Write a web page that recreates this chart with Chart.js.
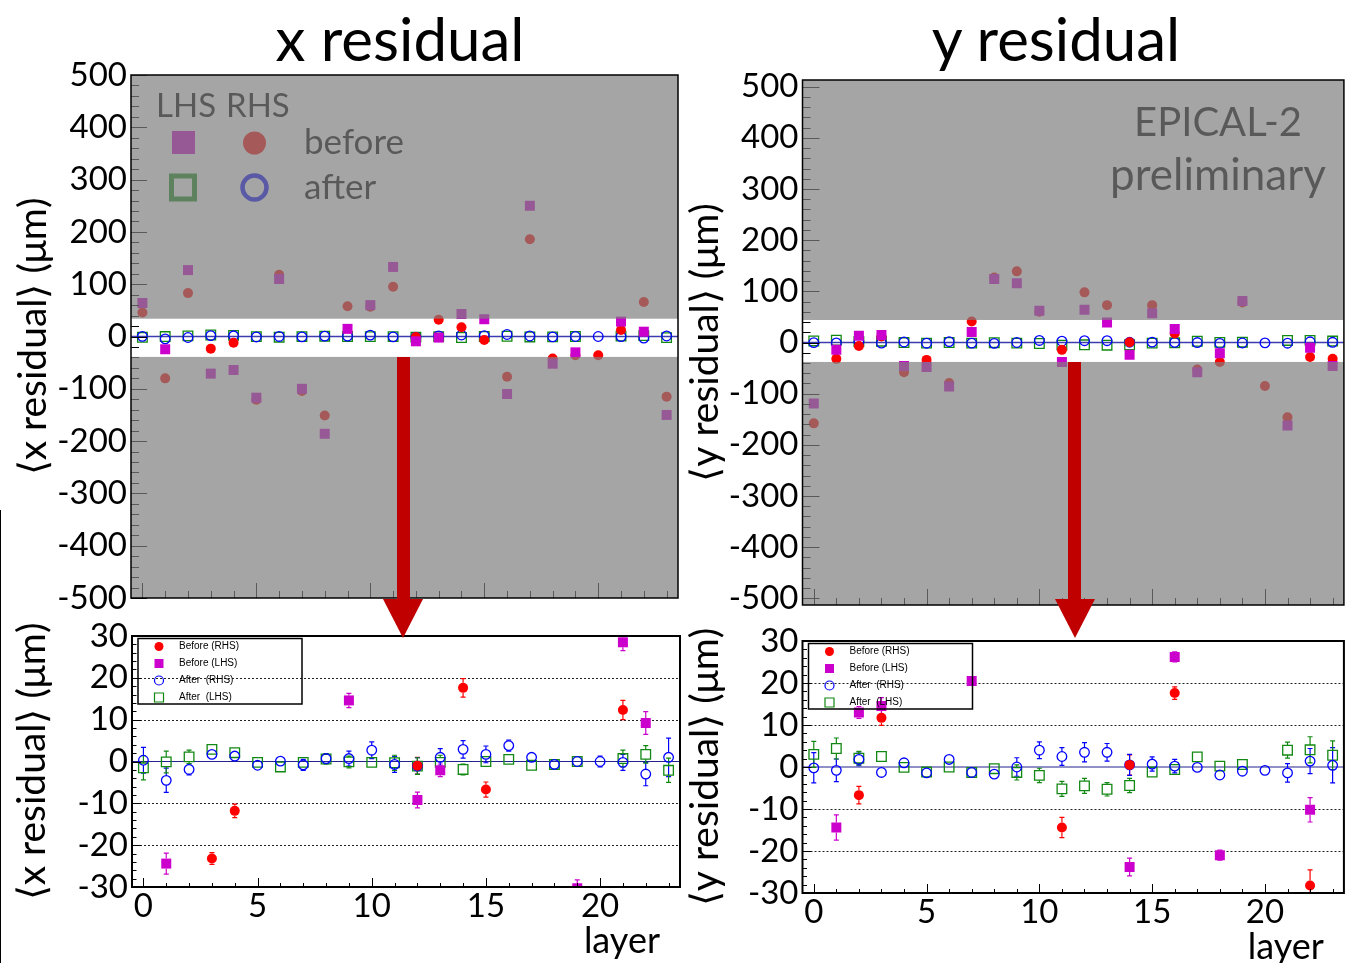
<!DOCTYPE html>
<html>
<head>
<meta charset="utf-8">
<title>Layer residuals before and after alignment</title>
<script src="https://cdn.jsdelivr.net/npm/chart.js@4.4.0/dist/chart.umd.min.js"></script>
<style>
  html, body { margin: 0; padding: 0; background: #fff; }
  body { position: relative; width: 1345px; height: 963px; overflow: hidden; font-family: Lato, sans-serif; }
  canvas { position: absolute; }
  .heading { position: absolute; top: 2px; font-size: 60px; line-height: 72px; color: #000; transform: translateX(-50%); white-space: nowrap; }
  .shaft { position: absolute; width: 13px; background: #c00000; z-index: 5; }
  .head { position: absolute; width: 0; height: 0; border-left: 20px solid transparent; border-right: 20px solid transparent; border-top: 39px solid #c00000; z-index: 5; }
  .edge { position: absolute; left: 0; top: 510px; width: 1px; height: 453px; background: #000; }
</style>
</head>
<body>
<div class="heading" style="left:400px">x residual</div>
<div class="heading" style="left:1056px">y residual</div>

<canvas id="xWide" width="690" height="590" style="left:0;top:40px"></canvas>
<canvas id="xZoom" width="690" height="353" style="left:0;top:610px"></canvas>
<canvas id="yWide" width="672" height="590" style="left:680px;top:40px"></canvas>
<canvas id="yZoom" width="672" height="348" style="left:680px;top:615px"></canvas>

<div class="edge"></div>
<div class="shaft" style="left:397px;top:357px;height:243px"></div>
<div class="head" style="left:383px;top:599px"></div>
<div class="shaft" style="left:1068px;top:362px;height:238px"></div>
<div class="head" style="left:1055px;top:599px"></div>

<script>
// layer number on the horizontal axis
const layers = [0, 1, 2, 3, 4, 5, 6, 7, 8, 9, 10, 11, 12, 13, 14, 15, 16, 17, 18, 19, 20, 21, 22, 23];
const layerTicks = [0, 5, 10, 15, 20];
const wideTicks = [-500, -400, -300, -200, -100, 0, 100, 200, 300, 400, 500];
const zoomTicks = [-30, -20, -10, 0, 10, 20, 30];

// mean x residual per layer, um
const xBeforeRHS = [46, -80, 83, -23.2, -11.8, -121, 118, -104, -151, 58, 57, 95, -1.0, 32, 17.6, -6.7, -77, 186, -42, -36, -36, 12.3, 66, -115];
const xBeforeLHS = [64, -24.4, 127, -71, -64, -117, 110, -100, -186, 14.6, 60, 133, -9.2, -2.1, 43, 33, -110, 250, -52, -30.3, null, 28.5, 9.2, -150];
const xAfterRHS = [0.3, -4.5, -1.9, 1.7, 1.3, -0.9, 0.1, -0.8, 0.7, 0.7, 2.7, -0.7, -1.1, 1.0, 2.9, 1.7, 3.8, 1.0, -0.7, 0, 0, -0.2, -3.0, 1.0];
const xAfterLHS = [-1.5, -0.1, 1.1, 2.9, 2.1, -0.2, -1.3, -0.2, 0.6, -0.1, -0.2, -0.3, -1.1, -0.2, -1.9, 0, 0.5, -0.9, -0.7, 0, null, 0.7, 1.7, -2.1];

// errors on the x means, um
const xErrBeforeRHS = [2, 2, 2, 1.4, 1.6, 2, 2, 2, 2, 2, 2, 2, 2.0, 2, 2.2, 1.8, 2, 2, 2, 2, 2, 2.3, 2, 2];
const xErrBeforeLHS = [2, 2.5, 2, 2, 2, 2, 2, 2, 2, 1.7, 2, 2, 1.9, 1.5, 2, 2, 2, 2, 2, 2, null, 2.0, 2.7, 2];
const xErrAfterRHS = [3.1, 2.9, 1.3, 1.0, 0.6, 0.5, 1.1, 1.3, 1.2, 1.8, 2.0, 1.9, 2.0, 2.1, 2.1, 2.0, 1.3, 0.6, 0.4, 0.4, 1.3, 1.9, 2.8, 4.6];
const xErrAfterLHS = [2.9, 2.6, 1.6, 1.0, 0.8, 0.5, 0.6, 0.8, 1.2, 1.4, 1.0, 1.8, 2.0, 1.7, 1.3, 1.2, 0.6, 0.6, 0.4, 0.4, null, 2.0, 2.1, 2.9];

// mean y residual per layer, um
const yBeforeRHS = [-158, -32, -6.7, 11.7, -58, -34, -79, 41, 127, 139, 60, -14.4, 98, 73, 0.5, 73, 17.6, -53, -38, 78, -85, -146, -28.2, -32];
const yBeforeLHS = [-119, -14.4, 13.0, 14.5, -46, -48, -86, 20.5, 124, 116, 62, -38, 64, 39, -23.8, 57, 26.2, -58, -21.0, 81, null, -162, -10.2, -46];
const yAfterRHS = [-0.2, -0.8, 1.8, -1.3, 1.0, -1.4, 1.8, -1.3, -1.7, 0, 4.0, 2.5, 3.5, 3.5, 0.5, 0.7, 0.2, -0.1, -1.9, -1.0, -0.8, -1.4, 1.4, 0.4];
const yAfterLHS = [3.0, 4.4, 2.1, 2.5, -0.1, -1.2, 0, -1.3, -0.4, -1.3, -2.0, -5.2, -4.5, -5.3, -4.4, -1.2, -0.6, 2.4, 0.2, 0.6, null, 4.0, 4.1, 2.8];

// errors on the y means, um
const yErrBeforeRHS = [2, 2, 2.1, 1.8, 2, 2, 2, 2, 2, 2, 2, 2.4, 2, 2, 2.4, 2, 1.5, 2, 2, 2, 2, 2, 3.7, 2];
const yErrBeforeLHS = [2, 3.0, 1.4, 2.0, 2, 2, 2, 1.0, 2, 2, 2, 2, 2, 2, 2.1, 2, 1.2, 2, 1.2, 2, null, 2, 2.9, 2];
const yErrAfterRHS = [3.6, 2.7, 1.5, 1.0, 1.0, 0.5, 1.0, 1.0, 1.0, 2.2, 2.0, 2.1, 2.3, 2.1, 2.5, 1.7, 1.6, 0.5, 0.5, 0.5, 0.5, 2.2, 3.0, 4.2];
const yErrAfterLHS = [3.1, 2.5, 1.6, 0.5, 0.5, 0.5, 0.5, 0.5, 1.0, 1.8, 1.7, 1.8, 1.8, 1.6, 1.7, 0.5, 0.8, 0.5, 0.5, 0.5, null, 1.9, 3.1, 3.4];

// marker styles (order: lower is drawn on top)
const styles = {
  beforeRHS: { label: 'Before (RHS)', shape: 'circle', color: '#ff0000', open: false, order: 1 },
  beforeLHS: { label: 'Before (LHS)', shape: 'rect', color: '#cc00cc', open: false, order: 0 },
  afterRHS: { label: 'After  (RHS)', shape: 'circle', color: '#0000ff', open: true, order: 2 },
  afterLHS: { label: 'After  (LHS)', shape: 'rect', color: '#118811', open: true, order: 3 }
};
const legendOrder = ['beforeRHS', 'beforeLHS', 'afterRHS', 'afterLHS'];

Chart.defaults.font.family = 'Lato';

function points(values, errors) {
  const out = [];
  layers.forEach((layer, i) => {
    if (values[i] !== null) out.push({ x: layer, y: values[i], err: errors[i] });
  });
  return out;
}

function makeDataset(style, values, errors, size) {
  const radius = style.shape === 'rect' ? size / Math.SQRT2 : size / 2;
  return {
    label: style.label,
    data: points(values, errors),
    order: style.order,
    pointStyle: style.shape,
    pointRadius: radius,
    pointHoverRadius: radius,
    pointBackgroundColor: style.open ? 'rgba(0,0,0,0)' : style.color,
    pointBorderColor: style.color,
    pointBorderWidth: style.open ? 1.3 : 0,
    showLine: false,
    clip: 0,
    markerHalf: size / 2
  };
}

function drawMarker(ctx, style, cx, cy, size, lineWidth) {
  ctx.save();
  ctx.beginPath();
  if (style.shape === 'circle') ctx.arc(cx, cy, size / 2, 0, Math.PI * 2);
  else ctx.rect(cx - size / 2, cy - size / 2, size, size);
  if (style.open) {
    ctx.strokeStyle = style.color;
    ctx.lineWidth = lineWidth;
    ctx.stroke();
  } else {
    ctx.fillStyle = style.color;
    ctx.fill();
  }
  ctx.restore();
}

function hline(ctx, x1, x2, y) {
  ctx.moveTo(x1, y);
  ctx.lineTo(x2, y);
}

// ROOT-like frame: inner ticks, reference lines, error bars, grey mask outside the zoom band
function panelDecor(p) {
  return {
    id: 'panelDecor',
    beforeDatasetsDraw(chart) {
      const { ctx, chartArea: a, scales: { x, y } } = chart;
      ctx.save();
      ctx.beginPath();
      ctx.rect(a.left, a.top, a.width, a.height);
      ctx.clip();

      if (p.dotted) {
        ctx.strokeStyle = '#222';
        ctx.lineWidth = 1;
        ctx.setLineDash([2, 2]);
        ctx.beginPath();
        p.dotted.forEach(v => hline(ctx, a.left, a.right, Math.round(y.getPixelForValue(v)) + 0.5));
        ctx.stroke();
        ctx.setLineDash([]);
      }

      ctx.strokeStyle = p.zeroColor;
      ctx.lineWidth = p.zeroWidth;
      ctx.beginPath();
      hline(ctx, a.left, a.right, y.getPixelForValue(0));
      ctx.stroke();

      chart.data.datasets.forEach((ds, di) => {
        const meta = chart.getDatasetMeta(di);
        ctx.strokeStyle = ds.pointBorderColor;
        ctx.lineWidth = 1.2;
        ctx.beginPath();
        meta.data.forEach((pt, i) => {
          const d = ds.data[i];
          if (!d.err) return;
          const top = y.getPixelForValue(d.y + d.err);
          const bot = y.getPixelForValue(d.y - d.err);
          const gap = ds.markerHalf;
          if (pt.y - top > gap) {
            ctx.moveTo(pt.x, pt.y - gap);
            ctx.lineTo(pt.x, top);
            hline(ctx, pt.x - 2.5, pt.x + 2.5, top);
          }
          if (bot - pt.y > gap) {
            ctx.moveTo(pt.x, pt.y + gap);
            ctx.lineTo(pt.x, bot);
            hline(ctx, pt.x - 2.5, pt.x + 2.5, bot);
          }
        });
        ctx.stroke();
      });
      ctx.restore();
    },
    afterDatasetsDraw(chart) {
      const { ctx, chartArea: a, scales: { x, y } } = chart;
      const t = p.ticks;
      ctx.save();

      // ticks pointing into the frame
      ctx.strokeStyle = '#000';
      ctx.lineWidth = 1;
      ctx.beginPath();
      const perMajorY = Math.round(t.yMajor / t.yMinor);
      for (let k = Math.ceil(y.min / t.yMinor); k * t.yMinor <= y.max; k++) {
        const py = Math.round(y.getPixelForValue(k * t.yMinor)) + 0.5;
        hline(ctx, a.left, a.left + (k % perMajorY === 0 ? t.yLong : t.yShort), py);
      }
      for (let k = Math.ceil(x.min); k <= x.max; k++) {
        const px = Math.round(x.getPixelForValue(k)) + 0.5;
        ctx.moveTo(px, a.bottom);
        ctx.lineTo(px, a.bottom - (k % 5 === 0 ? t.xLong : t.xShort));
      }
      ctx.stroke();

      if (p.notes) p.notes(ctx, a);

      if (p.band) {
        const hi = y.getPixelForValue(p.band[1]);
        const lo = y.getPixelForValue(p.band[0]);
        ctx.fillStyle = 'rgba(127,127,127,0.7)';
        ctx.fillRect(a.left, a.top, a.width, hi - a.top);
        ctx.fillRect(a.left, lo, a.width, a.bottom - lo);
      }

      ctx.strokeStyle = '#000';
      ctx.lineWidth = p.frameWidth;
      ctx.strokeRect(a.left, a.top, a.width, a.height);

      if (p.boxLegend) {
        const bx = a.left + 6, by = a.top + 2.5, bw = 164, bh = 65.5;
        const rows = [8, 25, 42, 59];
        ctx.lineWidth = 1.5;
        ctx.strokeRect(bx, by, bw, bh);
        ctx.fillStyle = '#000';
        ctx.font = '10px "Liberation Sans", Arial, sans-serif';
        ctx.textAlign = 'left';
        ctx.textBaseline = 'middle';
        legendOrder.forEach((key, i) => {
          drawMarker(ctx, styles[key], bx + 21, by + rows[i], 9, 1.2);
          ctx.fillText(styles[key].label, bx + 41, by + rows[i]);
        });
      }

      if (p.xTitle) {
        ctx.fillStyle = '#000';
        ctx.font = '36px Lato';
        ctx.textAlign = 'right';
        ctx.textBaseline = 'alphabetic';
        ctx.fillText(p.xTitle, a.right - 20, a.bottom + 66);
      }
      ctx.restore();
    }
  };
}

function buildPanel(canvasId, p) {
  const datasets = [
    makeDataset(styles.beforeRHS, p.beforeRHS, p.errBeforeRHS, 10),
    makeDataset(styles.beforeLHS, p.beforeLHS, p.errBeforeLHS, 10),
    makeDataset(styles.afterRHS, p.afterRHS, p.errAfterRHS, 9.6),
    makeDataset(styles.afterLHS, p.afterLHS, p.errAfterLHS, 9.6)
  ];
  const tickFont = { family: 'Lato', size: 33 };
  return new Chart(document.getElementById(canvasId), {
    type: 'scatter',
    data: { datasets },
    options: {
      responsive: false,
      animation: false,
      events: [],
      layout: { padding: p.padding },
      plugins: { legend: { display: false }, tooltip: { enabled: false } },
      scales: {
        x: {
          type: 'linear',
          display: p.showLayers,
          min: -0.5,
          max: 23.5,
          afterBuildTicks: s => { s.ticks = layerTicks.map(v => ({ value: v })); },
          afterFit: s => { s.height = p.xHeight || 0; },
          grid: { display: false, drawTicks: false },
          border: { display: false },
          ticks: { font: tickFont, color: '#000', padding: 0, maxRotation: 0, autoSkip: false, callback: v => String(v) }
        },
        y: {
          type: 'linear',
          min: p.yMin,
          max: p.yMax,
          afterBuildTicks: s => { s.ticks = p.yTicks.map(v => ({ value: v })); },
          afterFit: s => { s.width = p.yWidth; },
          grid: { display: false, drawTicks: false },
          border: { display: false },
          ticks: { font: tickFont, color: '#000', padding: 4, autoSkip: false, callback: v => String(v) },
          title: {
            display: true,
            text: p.yTitle,
            color: '#000',
            font: { family: 'Lato', size: 39 },
            padding: { top: p.titlePad, bottom: 0 }
          }
        }
      }
    },
    plugins: [panelDecor(p)]
  });
}

function drawPanels() {
  // x residual, full range
  buildPanel('xWide', {
    beforeRHS: xBeforeRHS, beforeLHS: xBeforeLHS, afterRHS: xAfterRHS, afterLHS: xAfterLHS,
    errBeforeRHS: xErrBeforeRHS, errBeforeLHS: xErrBeforeLHS, errAfterRHS: xErrAfterRHS, errAfterLHS: xErrAfterLHS,
    padding: { left: 0, top: 35, right: 12, bottom: 32 },
    yMin: -500, yMax: 500, yTicks: wideTicks, yWidth: 131, titlePad: 10,
    yTitle: '⟨x residual⟩ (μm)',
    showLayers: false,
    band: [-39, 34],
    zeroColor: '#3c3cb0', zeroWidth: 1.6, frameWidth: 1.5,
    ticks: { yMajor: 100, yMinor: 20, yLong: 16, yShort: 8, xLong: 15, xShort: 7 },
    notes(ctx, a) {
      ctx.fillStyle = '#000';
      ctx.font = '33px Lato';
      ctx.textAlign = 'left';
      ctx.textBaseline = 'alphabetic';
      ctx.fillText('LHS', a.left + 25, a.top + 42);
      ctx.fillText('RHS', a.left + 95, a.top + 42);
      ctx.font = '35px Lato';
      ctx.fillText('before', a.left + 173, a.top + 79);
      ctx.fillText('after', a.left + 173, a.top + 124);
      drawMarker(ctx, styles.beforeLHS, a.left + 52.5, a.top + 67.5, 23);
      drawMarker(ctx, styles.beforeRHS, a.left + 123.5, a.top + 68, 23);
      drawMarker(ctx, styles.afterLHS, a.left + 52, a.top + 112.5, 23, 5);
      drawMarker(ctx, styles.afterRHS, a.left + 123.5, a.top + 112.5, 24, 4.5);
    }
  });

  // x residual, zoomed to +-30 um
  buildPanel('xZoom', {
    beforeRHS: xBeforeRHS, beforeLHS: xBeforeLHS, afterRHS: xAfterRHS, afterLHS: xAfterLHS,
    errBeforeRHS: xErrBeforeRHS, errBeforeLHS: xErrBeforeLHS, errAfterRHS: xErrAfterRHS, errAfterLHS: xErrAfterLHS,
    padding: { left: 0, top: 26, right: 10, bottom: 0 },
    yMin: -30, yMax: 30, yTicks: zoomTicks, yWidth: 132, titlePad: 9,
    yTitle: '⟨x residual⟩ (μm)',
    showLayers: true, xHeight: 76, xTitle: 'layer',
    dotted: [-20, -10, 10, 20],
    zeroColor: '#23238f', zeroWidth: 1.2, frameWidth: 2,
    ticks: { yMajor: 10, yMinor: 2, yLong: 9, yShort: 4.5, xLong: 9, xShort: 4 },
    boxLegend: true
  });

  // y residual, full range
  buildPanel('yWide', {
    beforeRHS: yBeforeRHS, beforeLHS: yBeforeLHS, afterRHS: yAfterRHS, afterLHS: yAfterLHS,
    errBeforeRHS: yErrBeforeRHS, errBeforeLHS: yErrBeforeLHS, errAfterRHS: yErrAfterRHS, errAfterLHS: yErrAfterLHS,
    padding: { left: 0, top: 40, right: 5, bottom: 25 },
    yMin: -513, yMax: 513, yTicks: wideTicks, yWidth: 122.5, titlePad: 2,
    yTitle: '⟨y residual⟩ (μm)',
    showLayers: false,
    band: [-38, 44],
    zeroColor: '#3c3cb0', zeroWidth: 1.6, frameWidth: 1.5,
    ticks: { yMajor: 100, yMinor: 20, yLong: 17, yShort: 8, xLong: 16, xShort: 7 },
    notes(ctx, a) {
      ctx.fillStyle = '#000';
      ctx.textAlign = 'center';
      ctx.textBaseline = 'alphabetic';
      ctx.font = '40px Lato';
      ctx.fillText('EPICAL-2', a.left + 415.5, a.top + 56);
      ctx.font = '44px Lato';
      ctx.fillText('preliminary', a.left + 415.5, a.top + 110);
    }
  });

  // y residual, zoomed to +-30 um
  buildPanel('yZoom', {
    beforeRHS: yBeforeRHS, beforeLHS: yBeforeLHS, afterRHS: yAfterRHS, afterLHS: yAfterLHS,
    errBeforeRHS: yErrBeforeRHS, errBeforeLHS: yErrBeforeLHS, errAfterRHS: yErrAfterRHS, errAfterLHS: yErrAfterLHS,
    padding: { left: 0, top: 26, right: 5, bottom: 0 },
    yMin: -30, yMax: 30, yTicks: zoomTicks, yWidth: 122.5, titlePad: 2,
    yTitle: '⟨y residual⟩ (μm)',
    showLayers: true, xHeight: 70, xTitle: 'layer',
    dotted: [-20, -10, 10, 20],
    zeroColor: '#23238f', zeroWidth: 1.2, frameWidth: 2,
    ticks: { yMajor: 10, yMinor: 2, yLong: 9, yShort: 4.5, xLong: 9, xShort: 4 },
    boxLegend: true
  });
}

Promise.all([document.fonts.load('33px Lato'), document.fonts.load('10px "Liberation Sans"')])
  .catch(() => null)
  .then(drawPanels);
</script>
</body>
</html>
